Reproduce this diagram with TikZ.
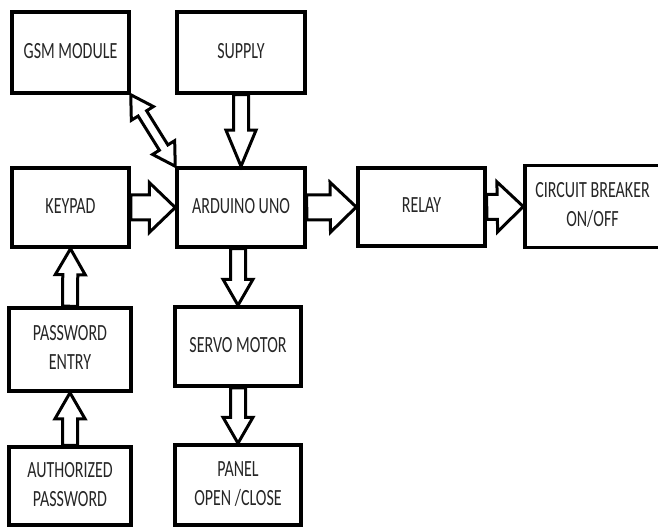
\documentclass[tikz,border=0pt]{standalone}
\usepackage{fontspec}
\setmainfont{Carlito}
\usepackage{graphicx}
\usetikzlibrary{calc}
\newcommand{\boxtext}[1]{\scalebox{1}[1.45]{\begin{tabular}{@{}c@{}}#1\end{tabular}}}

\tikzset{
  block/.style={draw, line width=3.5pt, minimum height=80pt, inner sep=0pt,
    font=\fontsize{16}{20}\selectfont, text=black!85},
  arrow shaft/.store in=\arrshaft, arrow shaft=12.5pt,
  arrow head/.store in=\arrhead, arrow head=25pt,
  arrow len/.store in=\arrlen, arrow len=26pt,
  fatarrow/.style={line width=3pt, line join=miter, to path={
    ($(\tikztostart)!\arrshaft!90:(\tikztotarget)$)
    -- ($(\tikztotarget)!\arrlen!(\tikztostart)!\arrshaft!-90:(\tikztostart)$)
    -- ($(\tikztotarget)!\arrlen!(\tikztostart)!\arrhead!-90:(\tikztostart)$)
    -- (\tikztotarget)
    -- ($(\tikztotarget)!\arrlen!(\tikztostart)!\arrhead!90:(\tikztostart)$)
    -- ($(\tikztotarget)!\arrlen!(\tikztostart)!\arrshaft!90:(\tikztostart)$)
    -- ($(\tikztostart)!\arrshaft!-90:(\tikztotarget)$) -- cycle}},
  thinarrow/.style={fatarrow, arrow shaft=7.5pt, arrow head=15pt, arrow len=26pt},
  twowayarrow/.style={line width=3pt, line join=miter, to path={
    (\tikztostart)
    -- ($(\tikztostart)!\arrlen!(\tikztotarget)!\arrhead!90:(\tikztotarget)$)
    -- ($(\tikztostart)!\arrlen!(\tikztotarget)!\arrshaft!90:(\tikztotarget)$)
    -- ($(\tikztotarget)!\arrlen!(\tikztostart)!\arrshaft!-90:(\tikztostart)$)
    -- ($(\tikztotarget)!\arrlen!(\tikztostart)!\arrhead!-90:(\tikztostart)$)
    -- (\tikztotarget)
    -- ($(\tikztotarget)!\arrlen!(\tikztostart)!\arrhead!90:(\tikztostart)$)
    -- ($(\tikztotarget)!\arrlen!(\tikztostart)!\arrshaft!90:(\tikztostart)$)
    -- ($(\tikztostart)!\arrlen!(\tikztotarget)!\arrshaft!-90:(\tikztotarget)$)
    -- ($(\tikztostart)!\arrlen!(\tikztotarget)!\arrhead!-90:(\tikztotarget)$)
    -- cycle}}
}

\begin{document}
\begin{tikzpicture}[x=1pt, y=-1pt]
  \useasboundingbox (0,0) rectangle (658,529);
  % blocks
  \node[block, minimum width=117pt, minimum height=81pt] (gsm) at (70.5,52.5) {\boxtext{GSM MODULE}};
  \node[block, minimum width=128pt, minimum height=81pt] (supply) at (241,52.5) {\boxtext{SUPPLY}};
  \node[block, minimum width=117pt, minimum height=79pt] (keypad) at (70.5,207.5) {\boxtext{KEYPAD}};
  \node[block, minimum width=128pt, minimum height=79pt] (arduino) at (241,207.5) {\boxtext{ARDUINO UNO}};
  \node[block, minimum width=127pt, minimum height=78pt] (relay) at (421.5,207) {\boxtext{RELAY}};
  \node[block, minimum width=135pt, minimum height=82pt] (breaker) at (592.5,206.5) {\boxtext{CIRCUIT BREAKER\\ON/OFF}};
  \node[block, minimum width=122pt, minimum height=83pt] (entry) at (70,349.5) {\boxtext{PASSWORD\\ENTRY}};
  \node[block, minimum width=122pt, minimum height=78pt] (authorized) at (70,486) {\boxtext{AUTHORIZED\\PASSWORD}};
  \node[block, minimum width=126pt, minimum height=79pt] (servo) at (238,346.5) {\boxtext{SERVO MOTOR}};
  \node[block, minimum width=126pt, minimum height=80pt] (panel) at (238,485) {\boxtext{PANEL\\OPEN /CLOSE}};
  % arrows
  \draw[twowayarrow, arrow shaft=5pt, arrow head=13pt, arrow len=22pt] (gsm.south east) to (arduino.north west);
  \draw[thinarrow, arrow len=36pt] (supply.south) to (arduino.north);
  \draw[fatarrow] (keypad.east) to (arduino.west);
  \draw[fatarrow] (arduino.east) to (relay.west);
  \draw[fatarrow] (relay.east) to (breaker.west);
  \draw[thinarrow] (servo.north |- arduino.south) to (servo.north);
  \draw[thinarrow] (servo.south) to (panel.north);
  \draw[thinarrow] (entry.north) to (keypad.south);
  \draw[thinarrow] (authorized.north) to (entry.south);
\end{tikzpicture}
\end{document}
